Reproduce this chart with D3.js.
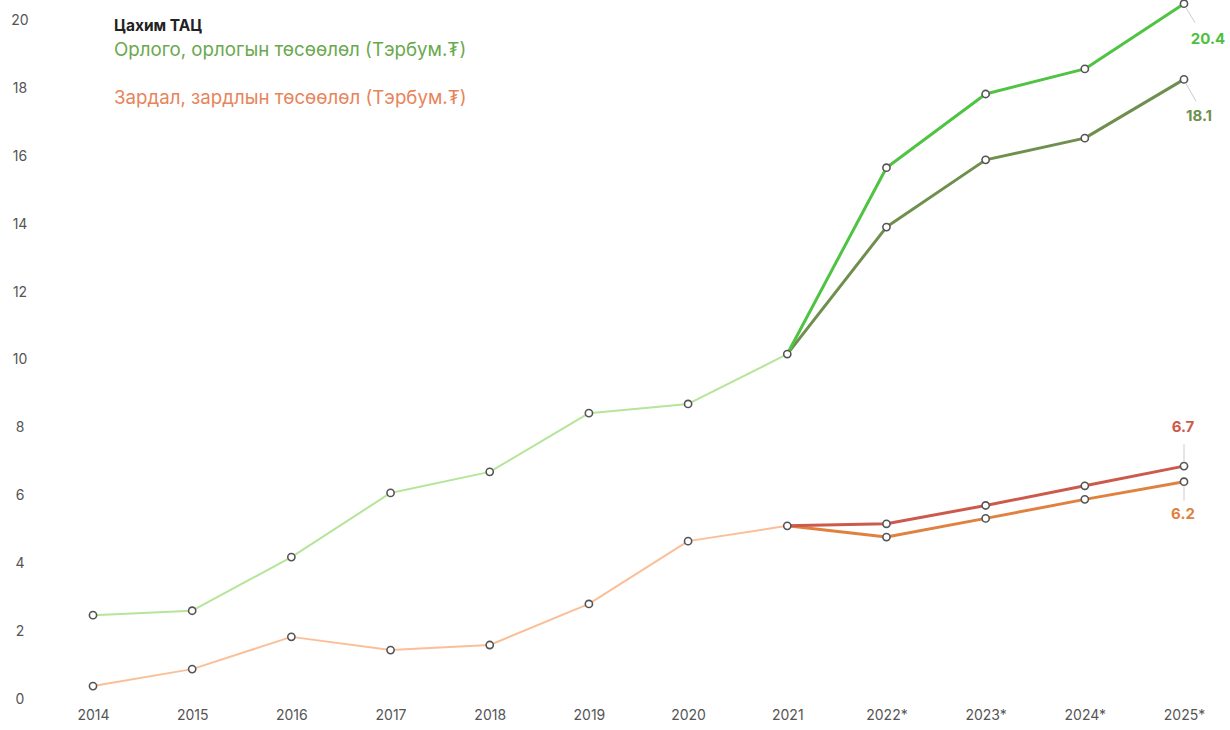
<!DOCTYPE html>
<html><head><meta charset="utf-8">
<script src="https://cdn.jsdelivr.net/npm/d3@7"></script>
<style>
body{margin:0;background:#fff;}
svg{display:block;font-family:"Inter","Roboto",sans-serif;}
</style></head>
<body><svg id="c" width="1230" height="730"></svg>
<script>
const years = ["2014","2015","2016","2017","2018","2019","2020","2021","2022*","2023*","2024*","2025*"];
const yTicks = [0,2,4,6,8,10,12,14,16,18,20];
const incomeHist = [2.47,2.6,4.18,6.07,6.69,8.42,8.69,10.16];
const incomeFcA = [10.16,15.65,17.82,18.56,20.48];
const incomeFcB = [10.16,13.9,15.88,16.52,18.25];
const expenseHist = [0.38,0.88,1.83,1.44,1.59,2.8,4.65,5.1];
const expenseFcA = [5.1,5.16,5.7,6.28,6.86];
const expenseFcB = [5.1,4.77,5.32,5.88,6.4];
const endLabelTexts = ["20.4","18.1","6.7","6.2"];
const legendTitle = "Цахим ТАЦ";
const legendIncome = "Орлого, орлогын төсөөлөл (Тэрбум.₮)";
const legendExpense = "Зардал, зардлын төсөөлөл (Тэрбум.₮)";

const svg = d3.select("#c");
const x = d3.scalePoint().domain(years).range([93,1184]);
const y = d3.scaleLinear().domain([0,20]).range([699,20]);

// y axis labels
const yAxis = d3.axisLeft(y).tickValues(yTicks).tickSize(0).tickPadding(0);
const gy = svg.append("g").attr("transform","translate(30,0)").call(yAxis);
gy.select(".domain").remove();
gy.selectAll("text").attr("text-anchor","middle").attr("x",-10).attr("font-size",14).attr("fill","#555").attr("font-family","Inter, Roboto, sans-serif");

// x axis labels
const xAxis = d3.axisBottom(x).tickSize(0).tickPadding(0);
const gx = svg.append("g").attr("transform","translate(0,710)").call(xAxis);
gx.select(".domain").remove();
gx.selectAll("text").attr("font-size",14).attr("fill","#555").attr("font-family","Inter, Roboto, sans-serif");

const line = d3.line().x(d=>x(d[0])).y(d=>y(d[1]));
function series(vals, startIdx, color, width){
  const pts = vals.map((v,i)=>[years[startIdx+i], v]);
  svg.append("path").datum(pts).attr("d",line).attr("fill","none")
     .attr("stroke",color).attr("stroke-width",width).attr("stroke-linejoin","round").attr("stroke-linecap","round");
  return pts;
}
const allPts = [];
allPts.push(...series(incomeHist,0,"#b5e598",2));
allPts.push(...series(expenseHist,0,"#fbbf97",2));
allPts.push(...series(incomeFcB,7,"#6f8f4e",3).slice(1));
allPts.push(...series(incomeFcA,7,"#4fc342",3).slice(1));
allPts.push(...series(expenseFcB,7,"#e0823f",3).slice(1));
allPts.push(...series(expenseFcA,7,"#cc5a4c",3).slice(1));

svg.append("g").selectAll("circle").data(allPts).join("circle")
  .attr("cx",d=>x(d[0])).attr("cy",d=>y(d[1])).attr("r",3.6)
  .attr("fill","#fff").attr("stroke","#555").attr("stroke-width",1.6);

// end labels
const last = years[years.length-1];
const endLabels = [
  {v:incomeFcA[4], text:endLabelTexts[0], color:"#4cbf40", dx:11, dy:19, tx:1208, ty:44},
  {v:incomeFcB[4], text:endLabelTexts[1], color:"#6f8f4e", dx:12, dy:22, tx:1199, ty:121},
  {v:expenseFcA[4], text:endLabelTexts[2], color:"#cc5a4c", dx:0, dy:-22, tx:1183, ty:432},
  {v:expenseFcB[4], text:endLabelTexts[3], color:"#e0823f", dx:0, dy:19, tx:1183, ty:519}
];
endLabels.forEach(l=>{
  const px = x(last), py = y(l.v);
  svg.append("line").attr("x1",px + (l.dx?2:0)).attr("y1",py + (l.dy>0?4:-4)).attr("x2",px+l.dx).attr("y2",py+l.dy)
    .attr("stroke","#ccc").attr("stroke-width",1);
  svg.append("text").attr("x",l.tx).attr("y",l.ty).attr("text-anchor","middle")
    .attr("font-size",15).attr("font-weight","bold").attr("fill",l.color).text(l.text);
});

// legend
svg.append("text").attr("x",114).attr("y",31).attr("font-size",15.5).attr("font-weight","bold").attr("fill","#222").text(legendTitle);
svg.append("text").attr("x",114).attr("y",56).attr("font-size",18.7).attr("fill","#6aa84f").text(legendIncome);
svg.append("text").attr("x",114).attr("y",104).attr("font-size",18.7).attr("fill","#e8845a").text(legendExpense);
</script></body></html>
